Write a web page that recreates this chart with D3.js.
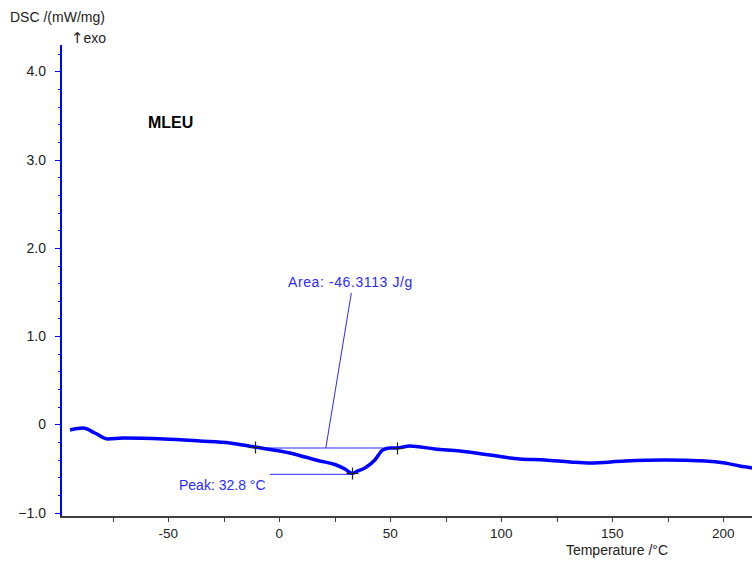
<!DOCTYPE html>
<html>
<head>
<meta charset="utf-8">
<script src="https://cdn.jsdelivr.net/npm/d3@7"></script>
<style>
  body { margin: 0; background: #fff; }
  text { font-family: Arial, "Liberation Sans", sans-serif; }
</style>
</head>
<body>
<script>
// DSC curve
var temps = [-94.2, -88.4, -83, -77.2, -70.4, -51.9, -35.7, -22.2, -11, 0.3, 4.8, 11.6, 18.3, 25.1, 29.6, 32.8,
  35.4, 38.6, 43.1, 46.7, 49.9, 53, 58.9, 70.1, 81.4, 94.9, 108.4, 119.7, 131, 140, 155.7, 173.7, 191.8, 200.8, 207.5, 213];
var dsc = [-0.064, -0.042, -0.098, -0.166, -0.155, -0.166, -0.189, -0.211, -0.257, -0.302, -0.325, -0.37, -0.415, -0.455, -0.506, -0.555,
  -0.528, -0.494, -0.404, -0.29, -0.268, -0.268, -0.245, -0.279, -0.302, -0.347, -0.393, -0.404, -0.426, -0.438, -0.415, -0.404, -0.415, -0.438, -0.472, -0.494];

var xTicks = [-75, -50, -25, 0, 25, 50, 75, 100, 125, 150, 175, 200];
var xLabels = [-50, 0, 50, 100, 150, 200];
var yMajor = [-1, 0, 1, 2, 3, 4];

// evaluation points
var onsetL = [-11, -0.262], onsetR = [53, -0.27];
var peak = [32.8, -0.555];
var areaText = "Area: -46.3113 J/g", peakText = "Peak: 32.8 °C";

var w = 752, h = 565;
var svg = d3.select("body").append("svg").attr("width", w).attr("height", h);

var x = d3.scaleLinear().domain([-98.3, 213]).range([61, 752]);
var y = d3.scaleLinear().domain([-1.05, 4.3]).range([517, 45]);

var blue = "#0000ff", annot = "#2b2bff", dark = "#222";

// y axis (blue)
svg.append("line").attr("x1", 61).attr("x2", 61).attr("y1", 45).attr("y2", 518)
  .attr("stroke", blue).attr("stroke-width", 2);
var yMinor = d3.range(-10, 43, 2).map(function(d){ return d / 10; });
svg.selectAll(".ymin").data(yMinor).enter().append("line")
  .attr("x1", function(d){ return Math.abs(d - Math.round(d)) < 1e-6 ? 55 : 58; })
  .attr("x2", 61)
  .attr("y1", function(d){ return Math.round(y(d)) + 0.5; })
  .attr("y2", function(d){ return Math.round(y(d)) + 0.5; })
  .attr("stroke", blue).attr("stroke-width", 1);
svg.selectAll(".ylab").data(yMajor).enter().append("text")
  .attr("x", 46).attr("y", function(d){ return y(d) + 5; })
  .attr("text-anchor", "end").attr("font-size", 14).attr("fill", dark)
  .text(function(d){ return d === 0 ? "0" : d3.format(".1f")(d); });

// x axis (dark grey)
svg.append("line").attr("x1", 60).attr("x2", 752).attr("y1", 517).attr("y2", 517)
  .attr("stroke", "#404040").attr("stroke-width", 2);
svg.selectAll(".xt").data(xTicks).enter().append("line")
  .attr("x1", function(d){ return Math.round(x(d)) + 0.5; })
  .attr("x2", function(d){ return Math.round(x(d)) + 0.5; })
  .attr("y1", 517).attr("y2", 522)
  .attr("stroke", "#404040").attr("stroke-width", 1);
svg.selectAll(".xlab").data(xLabels).enter().append("text")
  .attr("x", function(d){ return x(d); }).attr("y", 538)
  .attr("text-anchor", "middle").attr("font-size", 13.5).attr("fill", dark)
  .text(function(d){ return d; });

svg.append("text").attr("x", 668).attr("y", 555).attr("text-anchor", "end")
  .attr("font-size", 14).attr("fill", dark).text("Temperature /°C");
svg.append("text").attr("x", 10).attr("y", 22).attr("font-size", 14).attr("fill", dark).text("DSC /(mW/mg)");
svg.append("text").attr("x", 71).attr("y", 43).attr("font-size", 14).attr("fill", dark)
  .call(function(t){
    t.append("tspan").style("font-family", "'DejaVu Sans'").attr("font-size", 15).text("↑");
    t.append("tspan").text("exo");
  });
svg.append("text").attr("x", 148).attr("y", 128).attr("font-size", 16).attr("font-weight", "bold")
  .attr("fill", "#000").text("MLEU");

// annotations
svg.append("line").attr("x1", x(onsetL[0])).attr("x2", x(onsetR[0]))
  .attr("y1", y(-0.268)).attr("y2", y(-0.268)).attr("stroke", annot).attr("stroke-width", 1);
svg.append("line").attr("x1", x(21)).attr("y1", y(-0.268)).attr("x2", x(32.5)).attr("y2", y(1.49))
  .attr("stroke", annot).attr("stroke-width", 1);
svg.append("text").attr("x", 288).attr("y", 287).attr("font-size", 14).attr("letter-spacing", 0.6)
  .attr("fill", annot).text(areaText);
svg.append("line").attr("x1", x(-4.2)).attr("x2", x(peak[0]))
  .attr("y1", y(peak[1]) + 1).attr("y2", y(peak[1]) + 1).attr("stroke", annot).attr("stroke-width", 1);
svg.append("text").attr("x", 179).attr("y", 490).attr("font-size", 14).attr("fill", annot).text(peakText);

// curve
var line = d3.line()
  .x(function(d){ return x(d[0]); })
  .y(function(d){ return y(d[1]); })
  .curve(d3.curveMonotoneX);
svg.append("path").datum(d3.zip(temps, dsc)).attr("d", line)
  .attr("fill", "none").attr("stroke", blue).attr("stroke-width", 3.5);

// cross markers
svg.selectAll(".mk").data([onsetL, onsetR, peak]).enter().append("path")
  .attr("d", function(d){
    var cx = Math.round(x(d[0])) + 0.5, cy = Math.round(y(d[1])) + 0.5;
    return "M" + (cx - 6) + "," + cy + "H" + (cx + 6) + "M" + cx + "," + (cy - 6) + "V" + (cy + 6);
  })
  .attr("stroke", "#222").attr("stroke-width", 1.2).attr("fill", "none");
</script>
</body>
</html>
